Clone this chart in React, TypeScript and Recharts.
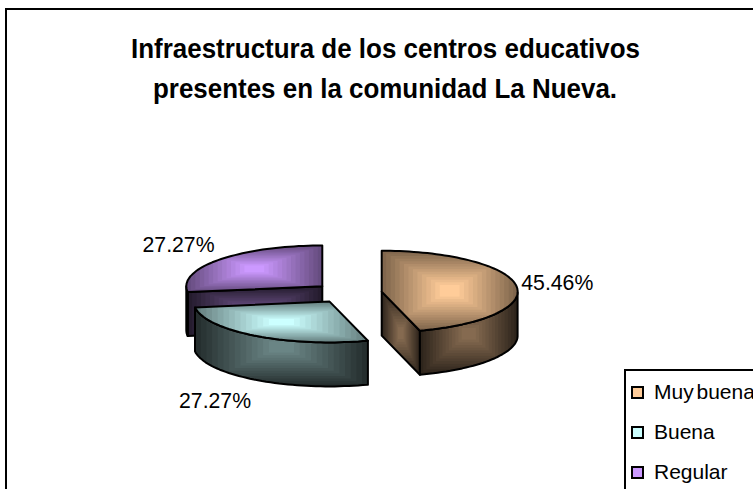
import { PieChart, Pie, Legend } from 'recharts';

const TITLE_LINES = ['Infraestructura de los centros educativos', 'presentes en la comunidad La Nueva.'];
const CATEGORIES = ['Muy buena', 'Buena', 'Regular'];
const VALUES = [45.46, 27.27, 27.27];
const LABELS = ['45.46%', '27.27%', '27.27%'];
const COLORS = ['#FFCC99', '#CCFFFF', '#CC99FF'];

// drawn back to front, going counter clockwise from 12 o'clock gives the same layout as the original
const tableData = CATEGORIES.map((name, i) => ({ name, value: VALUES[i], label: LABELS[i], fill: COLORS[i] })).reverse();

const TILT = 0.3;
const DEPTH = 44;
const EXPLODE = 0.25;
const BANDS = 14;
const RAD = Math.PI / 180;

function shade(hex: string, k: number) {
  const n = parseInt(hex.slice(1), 16);
  const c = [(n >> 16) & 255, (n >> 8) & 255, n & 255].map(v => Math.round(v * k));
  return `rgb(${c[0]},${c[1]},${c[2]})`;
}

function bbox(pts: number[][]) {
  const xs = pts.map(p => p[0]);
  const ys = pts.map(p => p[1]);
  return { x0: Math.min(...xs), x1: Math.max(...xs), y0: Math.min(...ys), y1: Math.max(...ys) };
}

function toPath(pts: number[][]) {
  return 'M' + pts.map(p => `${p[0].toFixed(1)},${p[1].toFixed(1)}`).join('L') + 'Z';
}

// rectangular banded fill, like the old office gradient
function BandedFace({ id, pts, color, edge, centre }: { id: string; pts: number[][]; color: string; edge: number; centre: number }) {
  const b = bbox(pts);
  const d = toPath(pts);
  const w = b.x1 - b.x0;
  const h = b.y1 - b.y0;
  const bands = [];
  for (let i = 0; i < BANDS; i++) {
    const t = i / BANDS;
    bands.push(
      <rect
        key={i}
        x={b.x0 + (w / 2) * t * 0.92}
        y={b.y0 + (h / 2) * t * 0.92}
        width={w * (1 - t * 0.92)}
        height={h * (1 - t * 0.92)}
        fill={shade(color, edge + (centre - edge) * (i / (BANDS - 1)))}
      />
    );
  }
  return (
    <g>
      <clipPath id={id}>
        <path d={d} />
      </clipPath>
      <g clipPath={`url(#${id})`}>{bands}</g>
      <path d={d} fill="none" stroke="#000" strokeWidth={2} strokeLinejoin="round" />
    </g>
  );
}

function Slice3D(props: any) {
  const { cx, cy, outerRadius, startAngle, endAngle, midAngle, fill, index } = props;
  const rx = outerRadius;
  const ry = outerRadius * TILT;
  const ox = cx + EXPLODE * rx * Math.cos(midAngle * RAD);
  const oy = cy - EXPLODE * ry * Math.sin(midAngle * RAD);
  const at = (a: number) => [ox + rx * Math.cos(a * RAD), oy - ry * Math.sin(a * RAD)];
  const centre = [ox, oy];

  const arc: number[][] = [];
  for (let a = startAngle; a < endAngle; a += 2) arc.push(at(a));
  arc.push(at(endAngle));
  const top = [centre, ...arc];
  const drop = (p: number[]) => [p[0], p[1] + DEPTH];

  // arc part that faces the viewer (lower half of the ellipse)
  const front = arc.filter((_, i) => {
    const a = Math.min(startAngle + i * 2, endAngle);
    return a >= 180 && a <= 360;
  });

  const walls: number[][][] = [];
  const first = arc[0];
  const last = arc[arc.length - 1];
  // a flat wall shows only when its outward side looks down the screen
  if (first[0] > centre[0] + 1) walls.push([centre, first, drop(first), drop(centre)]);
  if (last[0] < centre[0] - 1) walls.push([centre, last, drop(last), drop(centre)]);
  if (front.length > 1) walls.push([...front, ...front.slice().reverse().map(drop)]);

  return (
    <g>
      {walls.map((pts, i) => (
        <BandedFace key={i} id={`wall-${index}-${i}`} pts={pts} color={fill} edge={0.18} centre={0.52} />
      ))}
      <BandedFace id={`top-${index}`} pts={top} color={fill} edge={0.5} centre={1} />
    </g>
  );
}

function SliceLabel(props: any) {
  const { cx, cy, outerRadius, midAngle, payload } = props;
  const rx = outerRadius;
  const ry = outerRadius * TILT;
  const c = Math.cos(midAngle * RAD);
  const s = Math.sin(midAngle * RAD);
  const x = cx + (1 + EXPLODE) * rx * c;
  const y = cy - (1 + EXPLODE) * ry * s;
  return (
    <text
      x={x + (c > 0 ? 5 : -5)}
      y={y - 22 * s + (s < 0 ? DEPTH + 3 : 0) + 7}
      textAnchor={c > 0 ? 'start' : 'end'}
      fontFamily="Liberation Sans"
      fontSize={22}
      textLength={72}
      lengthAdjust="spacingAndGlyphs"
      fill="#000"
    >
      {payload.label}
    </text>
  );
}

function LegendBox() {
  return (
    <div style={{ width: 160, height: 130, background: '#fff', border: '2px solid #000', fontFamily: 'Liberation Sans', fontSize: 21, color: '#000' }}>
      {CATEGORIES.map((name, i) => (
        <div key={name} style={{ position: 'absolute', left: 7, top: 12 + i * 40, display: 'flex', alignItems: 'center', height: 22, whiteSpace: 'nowrap' }}>
          <span style={{ width: 9, height: 9, background: COLORS[i], border: '2px solid #000', marginRight: 10, display: 'inline-block' }} />
          <span style={{ wordSpacing: -3 }}>{name}</span>
        </div>
      ))}
    </div>
  );
}

export default function App() {
  return (
    <div style={{ position: 'absolute', left: 0, top: 0, width: 753, height: 489, overflow: 'hidden', background: '#fff' }}>
      <div style={{ position: 'absolute', left: 5, top: 8, width: 900, height: 600, border: '2px solid #000' }} />
      <div style={{ position: 'absolute', left: 0, top: 0 }}>
        <PieChart width={753} height={489} margin={{ top: 0, right: 0, bottom: 0, left: 0 }}>
          <text x={385.5} y={58} textAnchor="middle" fontFamily="Liberation Sans" fontWeight="bold" fontSize={28} textLength={509} lengthAdjust="spacingAndGlyphs" fill="#000">
            {TITLE_LINES[0]}
          </text>
          <text x={385} y={98} textAnchor="middle" fontFamily="Liberation Sans" fontWeight="bold" fontSize={28} textLength={464} lengthAdjust="spacingAndGlyphs" fill="#000">
            {TITLE_LINES[1]}
          </text>
          <Pie
            data={tableData}
            dataKey="value"
            nameKey="name"
            cx={348}
            cy={293}
            outerRadius={136}
            startAngle={90}
            endAngle={450}
            stroke="none"
            shape={Slice3D}
            label={SliceLabel}
            labelLine={false}
            isAnimationActive={false}
          />
          <Legend
            content={<LegendBox />}
            layout="vertical"
            wrapperStyle={{ position: 'absolute', left: 624, top: 369, width: 160, height: 130, bottom: 'auto', right: 'auto' }}
          />
        </PieChart>
      </div>
    </div>
  );
}
